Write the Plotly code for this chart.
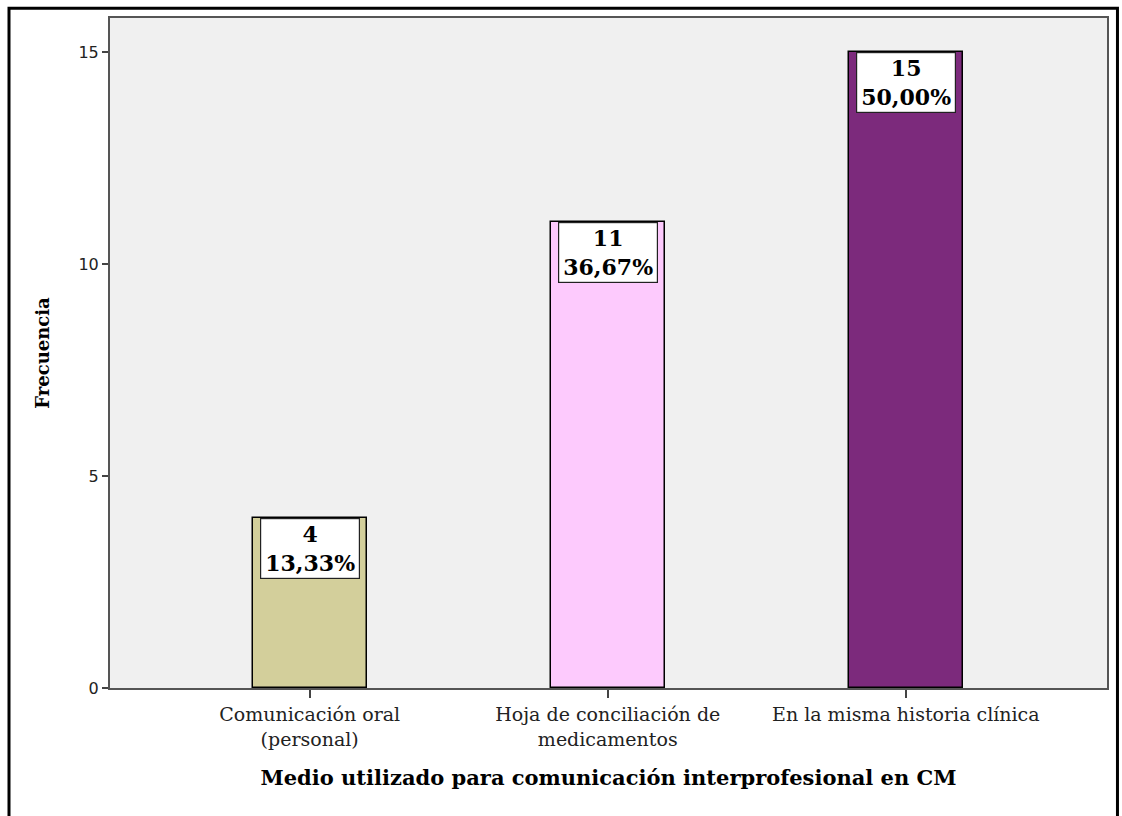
import plotly.graph_objects as go

categories = ["Comunicación oral<br>(personal)", "Hoja de conciliación de<br>medicamentos",
              "En la misma historia clínica"]
frecuencias = [4, 11, 15]
porcentajes = ["13,33%", "36,67%", "50,00%"]
colores = ["#d3cf9b", "#fdcafd", "#7c2a7c"]
y_ticks = [0, 5, 10, 15]

serif = "DejaVu Serif, serif"
sans = "DejaVu Sans, sans-serif"

fig = go.Figure()
fig.add_trace(go.Bar(
    x=categories, y=frecuencias,
    marker=dict(color=colores, line=dict(color="#000000", width=1.5)),
    width=0.383, showlegend=False, hoverinfo="skip",
))

for cat, val, pct in zip(categories, frecuencias, porcentajes):
    fig.add_annotation(
        x=cat, y=val, xref="x", yref="y", yanchor="top",
        text=f"<b>{val}<br>{pct}</b>", showarrow=False,
        font=dict(family=serif, size=22, color="#000000"),
        bgcolor="#ffffff", bordercolor="#222222", borderwidth=1.2,
        borderpad=2, width=94, align="center",
    )

# outer frame around the whole chart
fig.add_shape(type="rect", xref="paper", yref="paper",
              x0=-0.1013, x1=1.0105, y0=-0.20, y1=1.0145,
              line=dict(color="#000000", width=3), layer="above")

fig.update_layout(
    width=1122, height=816,
    margin=dict(l=110, r=15, t=18, b=128),
    paper_bgcolor="#ffffff", plot_bgcolor="#f0f0f0",
    bargap=0,
    xaxis=dict(
        range=[-0.67, 2.675], showgrid=False, zeroline=False,
        showline=True, mirror=True, linecolor="#555555", linewidth=2,
        ticks="outside", ticklen=8, tickcolor="#444444", tickwidth=1.5,
        tickfont=dict(family=serif, size=19, color="#222222"),
        title=dict(text="<b>Medio utilizado para comunicación interprofesional en CM</b>",
                   font=dict(family=serif, size=21, color="#000000"), standoff=22),
    ),
    yaxis=dict(
        range=[0, 15.8], tickvals=y_ticks, showgrid=False, zeroline=False,
        showline=True, mirror=True, linecolor="#555555", linewidth=2,
        ticks="outside", ticklen=6, tickcolor="#444444", tickwidth=1.5,
        tickfont=dict(family=sans, size=16, color="#222222"),
        title=dict(text="<b>Frecuencia</b>",
                   font=dict(family=serif, size=18, color="#000000"), standoff=24),
    ),
)

fig.write_html("out.html")
